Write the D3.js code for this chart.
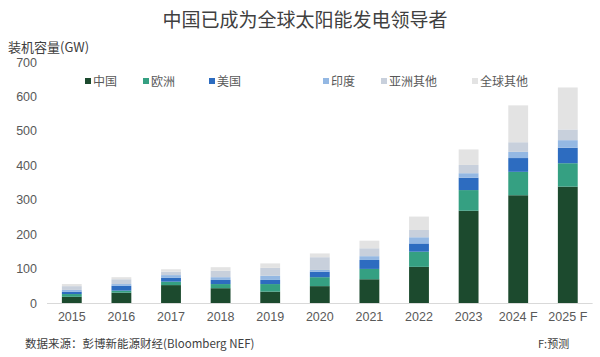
<!DOCTYPE html>
<html><head><meta charset="utf-8">
<script src="https://cdn.jsdelivr.net/npm/d3@7"></script>
<style>body{margin:0;background:#fff}svg{display:block}</style>
</head><body>
<svg id="c" width="600" height="357"></svg>
<script>
const years = ["2015","2016","2017","2018","2019","2020","2021","2022","2023","2024 F","2025 F"];
const seriesNames = ["中国","欧洲","美国","印度","亚洲其他","全球其他"];
const china    = [18, 30, 52, 43, 33, 49, 69, 105, 268, 313, 338];
const europe   = [ 8,  6, 10, 12, 22, 26, 30,  44,  60,  68,  68];
const usa      = [ 7, 14, 11, 12, 12, 16, 26,  24,  36,  40,  45];
const india    = [ 5,  5,  8,  8, 12,  5, 11,  18,  13,  18,  22];
const asiaOther= [11, 14, 10, 19, 23, 37, 23,  21,  24,  28,  31];
const worldOther=[ 6,  6,  7, 10, 13, 11, 22,  39,  45, 107, 122];
const yTicks = [0,100,200,300,400,500,600,700];
const colors = ["#1c4a2e","#35a082","#2d6cc0","#94b8e3","#c8d0dc","#e3e3e3"];

const seriesVals = [china, europe, usa, india, asiaOther, worldOther];
const rows = years.map((y,i)=>{const r={year:y}; seriesNames.forEach((s,k)=>r[s]=seriesVals[k][i]); return r;});
const stack = d3.stack().keys(seriesNames)(rows);

const svg = d3.select("#c");
const x = d3.scaleBand().domain(years).range([47, 592.6]).paddingInner(0.6).paddingOuter(0.3);
const y = d3.scaleLinear().domain([0,700]).range([303, 62]);
const cjk = "'Noto Sans CJK SC','Noto Sans',sans-serif";
const num = "'Liberation Sans',Arial,sans-serif";

// title
svg.append("text").attr("x",305).attr("y",27).attr("text-anchor","middle")
  .attr("font-family",cjk).attr("font-size",19).attr("fill","#404040").text("中国已成为全球太阳能发电领导者");
svg.append("text").attr("x",8).attr("y",51.5)
  .attr("font-family",cjk).attr("font-size",13).attr("fill","#404040").text("装机容量(GW)");

// y axis labels
const yAxis = d3.axisLeft(y).tickValues(yTicks).tickSize(0).tickPadding(0);
const gy = svg.append("g").attr("transform","translate(37,0)").call(yAxis);
gy.select(".domain").remove();
gy.selectAll("text").attr("font-family",num).attr("font-size",12.5).attr("fill","#595959");

// bars
svg.append("g").selectAll("g").data(stack).join("g").attr("fill",(d,i)=>colors[i])
  .selectAll("rect").data(d=>d).join("rect")
  .attr("x",d=>x(d.data.year)).attr("width",x.bandwidth())
  .attr("y",d=>y(d[1])).attr("height",d=>y(d[0])-y(d[1]));

// x axis
const xAxis = d3.axisBottom(x).tickSize(0).tickPadding(9);
const gx = svg.append("g").attr("transform","translate(0,303)").call(xAxis);
gx.select(".domain").attr("stroke","#d9d9d9").attr("d","M47,0.5H592.6");
gx.selectAll("text").attr("font-family",num).attr("font-size",12.5).attr("fill","#595959");

// legend
const legX = [85, 143, 209, 323, 381, 472];
const lg = svg.append("g").selectAll("g").data(seriesNames).join("g")
  .attr("transform",(d,i)=>`translate(${legX[i]},81)`);
lg.append("rect").attr("x",0).attr("y",-3).attr("width",6).attr("height",6).attr("fill",(d,i)=>colors[i]);
lg.append("text").attr("x",8).attr("y",4.5).attr("font-family",cjk).attr("font-size",12).attr("fill","#595959").text(d=>d);

// footer
svg.append("text").attr("x",25).attr("y",348).attr("font-family",cjk).attr("font-size",11.5).attr("fill","#404040")
  .text("数据来源：彭博新能源财经(Bloomberg NEF)");
svg.append("text").attr("x",538).attr("y",348).attr("font-family",cjk).attr("font-size",11).attr("fill","#404040")
  .text("F:预测");
</script>
</body></html>
